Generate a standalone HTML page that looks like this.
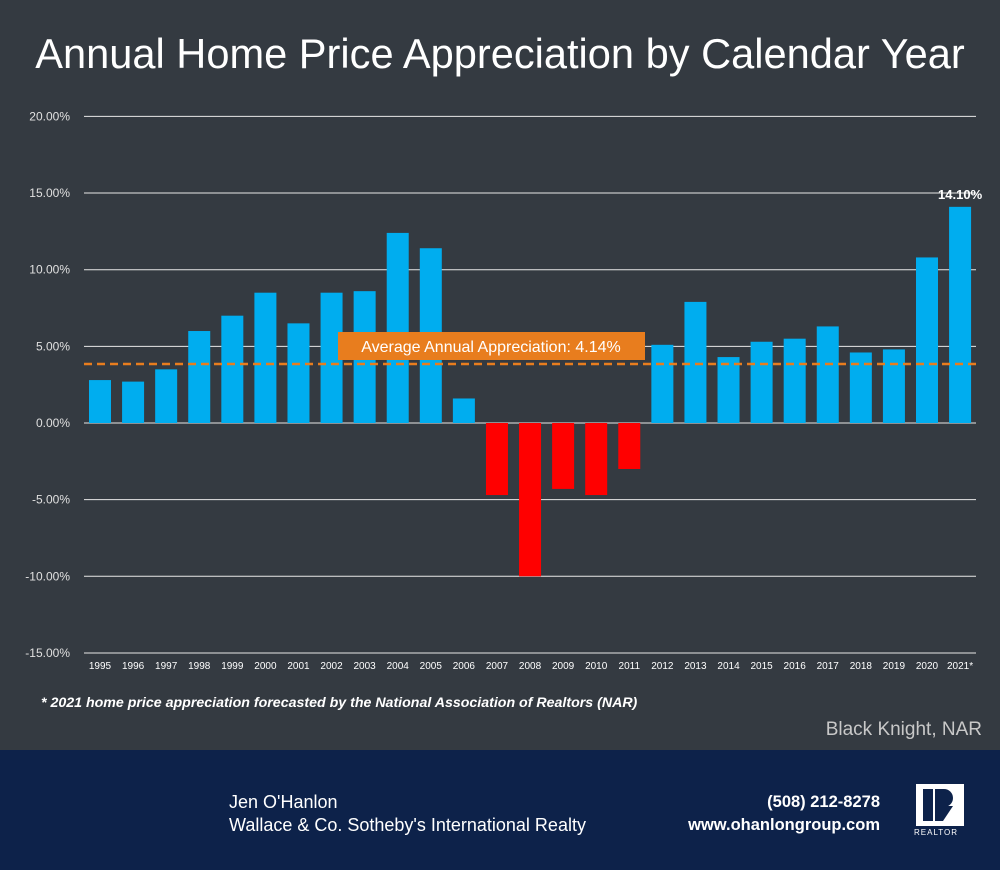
<!DOCTYPE html>
<html><head><meta charset="utf-8"><style>
body{margin:0;width:1000px;height:870px;background:#343a41;font-family:"Liberation Sans",sans-serif;overflow:hidden;position:relative}
.t{position:absolute;color:#fff}
</style></head><body>
<div class="t" style="left:0;width:1000px;top:30px;text-align:center;font-size:41.6px">Annual Home Price Appreciation by Calendar Year</div>
<svg id="c" width="1000" height="700" style="position:absolute;left:0;top:0"></svg>
<div class="t" style="left:41px;top:695px;font-size:14.2px;font-style:italic;font-weight:bold">* 2021 home price appreciation forecasted by the National Association of Realtors (NAR)</div>
<div class="t" style="right:18px;top:719px;font-size:19px;color:#c8c8c8">Black Knight, NAR</div>
<div style="position:absolute;left:0;top:750px;width:1000px;height:120px;background:#0d224a">
<div class="t" style="left:229px;top:41px;font-size:18px;line-height:23px">Jen O'Hanlon<br>Wallace &amp; Co. Sotheby's International Realty</div>
<div class="t" style="right:120px;top:41px;font-size:16.5px;line-height:23px;text-align:right;font-weight:bold">(508) 212-8278<br>www.ohanlongroup.com</div>
<div style="position:absolute;left:916px;top:34px;width:48px;height:42px;background:#fff">
<div style="position:absolute;left:7px;top:5px;width:10px;height:32px;background:#0d224a"></div>
<div style="position:absolute;left:19px;top:5px;width:18px;height:18px;background:#0d224a;border-radius:0 9px 9px 0"></div>
<div style="position:absolute;left:19px;top:22px;width:0;height:0;border-left:8px solid #0d224a;border-right:10px solid transparent;border-top:15px solid #0d224a"></div>
</div>
<div class="t" style="left:914px;top:78px;font-size:8px;letter-spacing:1px">REALTOR</div>
</div>
<script>
const years=["1995","1996","1997","1998","1999","2000","2001","2002","2003","2004","2005","2006","2007","2008","2009","2010","2011","2012","2013","2014","2015","2016","2017","2018","2019","2020","2021*"];
const values=[2.8,2.7,3.5,6.0,7.0,8.5,6.5,8.5,8.6,12.4,11.4,1.6,-4.7,-10.0,-4.3,-4.7,-3.0,5.1,7.9,4.3,5.3,5.5,6.3,4.6,4.8,10.8,14.1];
const ticks=[20,15,10,5,0,-5,-10,-15];
const avgLine=[3.85];
const avgLabel=["Average Annual Appreciation: 4.14%"];
const svg=document.getElementById('c');const NS="http://www.w3.org/2000/svg";
const y=v=>423-v*15.33;const x=i=>100+i*33.08;
function mk(t,a){const e=document.createElementNS(NS,t);for(const k in a)e.setAttribute(k,a[k]);svg.appendChild(e);return e;}
ticks.forEach(t=>{
const l=mk('line',{x1:84,x2:976,y1:y(t),y2:y(t),stroke:'#e8e8e8','stroke-width':1});


const tx=mk('text',{x:70,y:y(t)+4,'text-anchor':'end',fill:'#e0e0e0','font-size':12});tx.textContent=t.toFixed(2)+'%';


});
years.forEach((yr,i)=>{
const v=values[i];
const r=mk('rect',{x:x(i)-11,y:Math.min(y(v),y(0)),width:22,height:Math.abs(y(v)-y(0)),fill:v<0?'#ff0000':'#00adef'});


const tx=mk('text',{x:x(i),y:669,'text-anchor':'middle',fill:'#fff','font-size':10});tx.textContent=yr;


});
const last=values.length-1;
const vl=mk('text',{x:x(last),y:y(values[last])-8,'text-anchor':'middle',fill:'#fff','font-size':13,'font-weight':'bold'});vl.textContent=values[last].toFixed(2)+'%';


const al=mk('line',{x1:84,x2:976,y1:y(avgLine[0]),y2:y(avgLine[0]),stroke:'#e87d1e','stroke-width':2.5,'stroke-dasharray':'8,5'});


const ab=mk('rect',{x:338,y:332,width:307,height:28,fill:'#e87d1e'});


const at=mk('text',{x:491,y:352,'text-anchor':'middle',fill:'#fff','font-size':16});at.textContent=avgLabel[0];


</script>
</body></html>
